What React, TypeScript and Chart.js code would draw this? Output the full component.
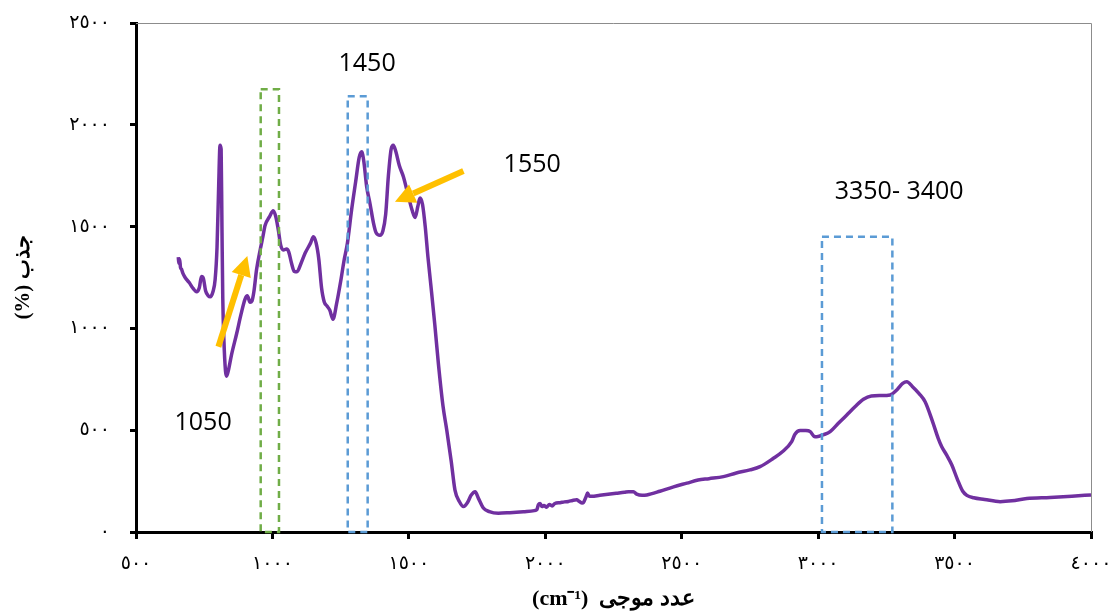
import React, { useEffect, useRef } from 'react';
import { Chart, registerables } from 'chart.js';

Chart.register(...registerables);

// Spectrum: wavenumber (cm-1) and absorbance values
const wavenumbers = [
  655, 657, 660, 663, 667, 672, 680, 695, 710, 722, 732, 740, 747, 755, 765, 772, 782, 790, 797, 803,
  808, 812, 815, 818, 822, 828, 832, 838, 850, 869, 885, 900, 908, 918, 925, 932, 942, 955, 965, 973,
  990, 1003, 1012, 1022, 1030, 1040, 1052, 1060, 1070, 1080, 1090, 1105, 1120, 1140, 1150, 1160, 1170, 1180, 1190, 1200,
  1210, 1222, 1235, 1250, 1262, 1275, 1290, 1305, 1318, 1327, 1335, 1345, 1358, 1370, 1380, 1394, 1405, 1415, 1425, 1435,
  1443, 1452, 1465, 1480, 1500, 1512, 1523, 1533, 1541, 1550, 1560, 1570, 1580, 1595, 1608, 1625, 1639, 1655, 1669, 1685,
  1700, 1715, 1728, 1743, 1755, 1773, 1795, 1828, 1870, 1920, 1960, 1969, 1975, 1981, 1988, 1995, 2005, 2015, 2025, 2035,
  2054, 2070, 2085, 2100, 2115, 2125, 2135, 2140, 2150, 2155, 2160, 2170, 2200, 2230, 2260, 2290, 2305, 2323, 2335, 2355,
  2372, 2420, 2470, 2519, 2560, 2600, 2653, 2700, 2750, 2787, 2836, 2870, 2903, 2915, 2934, 2955, 2971, 2985, 2995, 3020,
  3044, 3075, 3105, 3135, 3166, 3195, 3230, 3264, 3290, 3310, 3325, 3345, 3370, 3392, 3420, 3440, 3453, 3470, 3490, 3510,
  3530, 3545, 3570, 3610, 3667, 3710, 3765, 3850, 3930, 4000,
];
const absorbance = [
  1350, 1320, 1340, 1300, 1290, 1270, 1250, 1225, 1195, 1180, 1200, 1255, 1245, 1185, 1160, 1155, 1180, 1240, 1400, 1700,
  1900, 1880, 1500, 1150, 950, 790, 765, 790, 870, 975, 1070, 1145, 1160, 1128, 1135, 1180, 1290, 1385, 1450, 1505,
  1550, 1578, 1550, 1480, 1410, 1385, 1390, 1375, 1320, 1280, 1278, 1320, 1370, 1420, 1450, 1420, 1340, 1200, 1130, 1110,
  1090, 1045, 1120, 1230, 1330, 1420, 1580, 1720, 1840, 1868, 1820, 1700, 1610, 1520, 1470, 1458, 1480, 1560, 1750, 1880,
  1900, 1870, 1800, 1745, 1640, 1580, 1545, 1600, 1640, 1610, 1500, 1350, 1220, 1020, 830, 620, 500, 350, 206, 150,
  125, 145, 180, 198, 165, 118, 100, 92, 95, 100, 105, 110, 135, 140, 125, 130, 122, 135, 128, 140,
  144, 148, 150, 155, 158, 150, 142, 145, 175, 192, 178, 175, 180, 185, 190, 195, 198, 198, 186, 180,
  182, 200, 222, 240, 255, 262, 272, 290, 305, 321, 362, 395, 444, 480, 498, 498, 493, 470, 468, 478,
  493, 535, 575, 615, 652, 668, 670, 673, 700, 730, 738, 715, 680, 640, 540, 460, 419, 380, 329, 260,
  200, 180, 168, 160, 149, 153, 165, 170, 176, 182,
];

// Axis ticks
const xTickValues = [500, 1000, 1500, 2000, 2500, 3000, 3500, 4000];
const xTickLabels = ['٥٠٠', '١٠٠٠', '١٥٠٠', '٢٠٠٠', '٢٥٠٠', '٣٠٠٠', '٣٥٠٠', '٤٠٠٠'];
const yTickValues = [0, 500, 1000, 1500, 2000, 2500];
const yTickLabels = ['٠', '٥٠٠', '١٠٠٠', '١٥٠٠', '٢٠٠٠', '٢٥٠٠'];

// Axis titles
const xTitle = '(cm⁻¹)  عدد موجی';
const yTitle = '(%) جذب';

// Annotation boxes (data units)
const boxStartX = [957, 1276, 3014];
const boxEndX = [1024, 1349, 3272];
const boxTopY = [2174, 2140, 1450];
const boxColors = ['#70AD47', '#5B9BD5', '#5B9BD5'];

// Annotation labels (data units)
const labelTexts = ['1450', '1550', '3350- 3400', '1050'];
const labelX = [1347, 1952, 3297, 746];
const labelY = [2299, 1803, 1670, 535];

// Arrows (data units)
const arrowFromX = [802, 1700];
const arrowFromY = [910, 1773];
const arrowToX = [908, 1449];
const arrowToY = [1356, 1622];

const annotationPlugin = {
  id: 'annotations',
  afterDraw(chart: any) {
    const { ctx, chartArea, scales } = chart;
    const xs = scales.x;
    const ys = scales.y;
    ctx.save();
    // top & right frame
    ctx.strokeStyle = '#8c8c8c';
    ctx.lineWidth = 1;
    ctx.beginPath();
    ctx.moveTo(chartArea.left, chartArea.top + 0.5);
    ctx.lineTo(chartArea.right + 0.5, chartArea.top + 0.5);
    ctx.lineTo(chartArea.right + 0.5, chartArea.bottom);
    ctx.stroke();

    // dashed boxes
    ctx.lineWidth = 2.5;
    ctx.setLineDash([7, 5]);
    for (let i = 0; i < boxStartX.length; i++) {
      const x0 = xs.getPixelForValue(boxStartX[i]);
      const x1 = xs.getPixelForValue(boxEndX[i]);
      const y0 = ys.getPixelForValue(boxTopY[i]);
      const y1 = ys.getPixelForValue(0);
      ctx.strokeStyle = boxColors[i];
      ctx.strokeRect(x0, y0, x1 - x0, y1 - y0);
    }
    ctx.setLineDash([]);

    // arrows
    ctx.strokeStyle = '#FFC000';
    ctx.fillStyle = '#FFC000';
    for (let i = 0; i < arrowFromX.length; i++) {
      const fx = xs.getPixelForValue(arrowFromX[i]);
      const fy = ys.getPixelForValue(arrowFromY[i]);
      const tx = xs.getPixelForValue(arrowToX[i]);
      const ty = ys.getPixelForValue(arrowToY[i]);
      const ang = Math.atan2(ty - fy, tx - fx);
      const headLen = 20;
      const headHalf = 10;
      const bx = tx - headLen * Math.cos(ang);
      const by = ty - headLen * Math.sin(ang);
      ctx.lineWidth = 6;
      ctx.beginPath();
      ctx.moveTo(fx, fy);
      ctx.lineTo(bx, by);
      ctx.stroke();
      ctx.beginPath();
      ctx.moveTo(tx, ty);
      ctx.lineTo(bx + headHalf * Math.sin(ang), by - headHalf * Math.cos(ang));
      ctx.lineTo(bx - headHalf * Math.sin(ang), by + headHalf * Math.cos(ang));
      ctx.closePath();
      ctx.fill();
    }

    // text labels
    ctx.fillStyle = '#000';
    ctx.font = '25px "Open Sans"';
    ctx.textAlign = 'center';
    ctx.textBaseline = 'middle';
    for (let i = 0; i < labelTexts.length; i++) {
      ctx.fillText(labelTexts[i], xs.getPixelForValue(labelX[i]), ys.getPixelForValue(labelY[i]));
    }
    ctx.restore();
  },
};

export default function App() {
  const canvasRef = useRef<HTMLCanvasElement | null>(null);

  useEffect(() => {
    document.body.style.margin = '0';
    const canvas = canvasRef.current;
    if (!canvas) return;
    const points = wavenumbers.map((w, i) => ({ x: w, y: absorbance[i] }));
    const chart = new Chart(canvas, {
      type: 'line',
      data: {
        datasets: [
          {
            data: points,
            borderColor: '#7030A0',
            borderWidth: 3.5,
            pointRadius: 0,
            fill: false,
            cubicInterpolationMode: 'monotone',
          },
        ],
      },
      options: {
        responsive: false,
        maintainAspectRatio: false,
        animation: false,
        layout: { padding: { top: 23, right: 23, left: 0, bottom: 0 } },
        plugins: { legend: { display: false }, tooltip: { enabled: false } },
        scales: {
          x: {
            type: 'linear',
            min: 500,
            max: 4000,
            afterBuildTicks: (s: any) => {
              s.ticks = xTickValues.map((v) => ({ value: v }));
            },
            afterFit: (s: any) => {
              s.height = 81;
              s.paddingLeft = 0;
              s.paddingRight = 0;
            },
            ticks: {
              autoSkip: false,
              maxRotation: 0,
              padding: 14,
              color: '#000',
              font: { family: '"DejaVu Sans"', size: 19 },
              callback: (v: any) => xTickLabels[xTickValues.indexOf(Number(v))],
            },
            grid: {
              display: true,
              drawOnChartArea: false,
              drawTicks: true,
              tickLength: 7,
              color: '#000',
              lineWidth: 3,
            },
            border: { display: true, color: '#000', width: 3 },
            title: {
              display: true,
              text: xTitle,
              color: '#000',
              font: { family: '"Liberation Serif"', size: 22, weight: 'bold' },
              padding: { top: 0, bottom: 0 },
            },
          },
          y: {
            type: 'linear',
            min: 0,
            max: 2500,
            afterBuildTicks: (s: any) => {
              s.ticks = yTickValues.map((v) => ({ value: v }));
            },
            afterFit: (s: any) => {
              s.width = 136;
              s.paddingTop = 0;
              s.paddingBottom = 0;
            },
            ticks: {
              autoSkip: false,
              padding: 20,
              color: '#000',
              font: { family: '"DejaVu Sans"', size: 19 },
              callback: (v: any) => yTickLabels[yTickValues.indexOf(Number(v))],
            },
            grid: {
              display: true,
              drawOnChartArea: false,
              drawTicks: true,
              tickLength: 6,
              color: '#000',
              lineWidth: 3,
            },
            border: { display: true, color: '#000', width: 3 },
            title: {
              display: true,
              text: yTitle,
              color: '#000',
              font: { family: '"Liberation Serif"', size: 21, weight: 'bold' },
              padding: { top: 11, bottom: 0 },
            },
          },
        },
      },
      plugins: [annotationPlugin],
    });
    return () => chart.destroy();
  }, []);

  return (
    <div style={{ width: 1114, height: 613 }}>
      <canvas ref={canvasRef} width={1114} height={613} />
    </div>
  );
}
